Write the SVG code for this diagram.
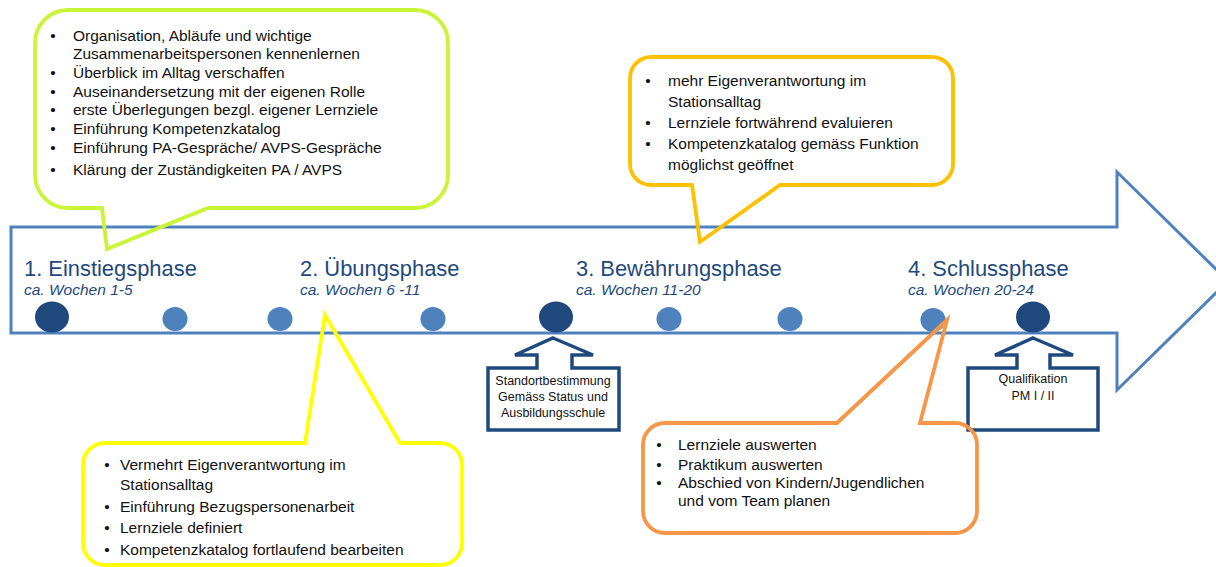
<svg xmlns="http://www.w3.org/2000/svg" width="1216" height="567" viewBox="0 0 1216 567">
<style>
.t{font-family:"Liberation Sans",Arial,sans-serif;font-size:15.5px;fill:#111}
.b{font-family:"Liberation Sans",Arial,sans-serif;font-size:15.5px;fill:#111;text-anchor:middle}
.ph{font-family:"Liberation Sans",Arial,sans-serif;font-size:21.9px;fill:#1f497d}
.wk{font-family:"Liberation Sans",Arial,sans-serif;font-size:15.5px;font-style:italic;fill:#1f497d}
.bx{font-family:"Liberation Sans",Arial,sans-serif;font-size:12.5px;fill:#111;text-anchor:middle}
.dk{fill:#1f497d}
.lt{fill:#4f81bd}
.mark{fill:#fff;stroke:#1f497d;stroke-width:3.5;stroke-linejoin:miter}
.co{fill:none;stroke-width:3.8;stroke-linejoin:miter}
</style>
<rect width="1216" height="567" fill="#fff"/>
<g id="timeline">
<path d="M 11,227 H 1117 V 172 L 1228,281 L 1117,390 V 333 H 11 Z" fill="#fff" stroke="#4f81bd" stroke-width="3"/>
</g>
<g id="phase1">
<text class="ph" x="24" y="276">1. Einstiegsphase</text>
<text class="wk" x="24" y="295">ca. Wochen 1-5</text>
</g>
<g id="phase2">
<text class="ph" x="300" y="276">2. Übungsphase</text>
<text class="wk" x="300" y="295">ca. Wochen 6 -11</text>
</g>
<g id="phase3">
<text class="ph" x="576" y="276">3. Bewährungsphase</text>
<text class="wk" x="576" y="295">ca. Wochen 11-20</text>
</g>
<g id="phase4">
<text class="ph" x="908" y="276">4. Schlussphase</text>
<text class="wk" x="908" y="295">ca. Wochen 20-24</text>
</g>
<g id="dots">
<ellipse class="dk" cx="52" cy="317" rx="17" ry="15.5"/>
<ellipse class="lt" cx="175" cy="319" rx="12.5" ry="12"/>
<ellipse class="lt" cx="280" cy="319" rx="12.5" ry="12"/>
<ellipse class="lt" cx="433" cy="319" rx="12.5" ry="12"/>
<ellipse class="dk" cx="556" cy="317" rx="17" ry="15.5"/>
<ellipse class="lt" cx="669" cy="319" rx="12.5" ry="12"/>
<ellipse class="lt" cx="790" cy="319" rx="12.5" ry="12"/>
<ellipse class="lt" cx="933" cy="320" rx="12.5" ry="12"/>
<ellipse class="dk" cx="1033" cy="317" rx="17" ry="15.5"/>
</g>
<g id="standort">
<path class="mark" d="M 553,338 L 593,355 L 572,355 L 572,368 L 619,368 L 619,430 L 488,430 L 488,368 L 537,368 L 537,355 L 515,355 Z"/>
<text class="bx" x="553" y="385">Standortbestimmung</text>
<text class="bx" x="553" y="401">Gemäss Status und</text>
<text class="bx" x="553" y="417">Ausbildungsschule</text>
</g>
<g id="qualifikation">
<path class="mark" d="M 1033,338 L 1073,355 L 1050,355 L 1050,368 L 1098,368 L 1098,430 L 968,430 L 968,368 L 1017,368 L 1017,355 L 995,355 Z"/>
<text class="bx" x="1033" y="383">Qualifikation</text>
<text class="bx" x="1033" y="400">PM I / II</text>
</g>
<g id="callout1">
<path class="co" stroke="#c9f536" d="M 68,10 H 415 A 33 33 0 0 1 448,43 V 175 A 33 33 0 0 1 415,208 H 208 L 107,249 L 102,208 H 68 A 33 33 0 0 1 35,175 V 43 A 33 33 0 0 1 68,10 Z"/>
<text class="b" x="53" y="40.5">•</text><text class="t" x="73" y="40.5">Organisation, Abläufe und wichtige</text>
<text class="t" x="73" y="58.5">Zusammenarbeitspersonen kennenlernen</text>
<text class="b" x="53" y="77.5">•</text><text class="t" x="73" y="77.5">Überblick im Alltag verschaffen</text>
<text class="b" x="53" y="96.5">•</text><text class="t" x="73" y="96.5">Auseinandersetzung mit der eigenen Rolle</text>
<text class="b" x="53" y="115">•</text><text class="t" x="73" y="115">erste Überlegungen bezgl. eigener Lernziele</text>
<text class="b" x="53" y="133.5">•</text><text class="t" x="73" y="133.5">Einführung Kompetenzkatalog</text>
<text class="b" x="53" y="153">•</text><text class="t" x="73" y="153">Einführung PA-Gespräche/ AVPS-Gespräche</text>
<text class="b" x="53" y="175">•</text><text class="t" x="73" y="175">Klärung der Zuständigkeiten PA / AVPS</text>
</g>
<g id="callout3">
<path class="co" stroke="#ffc000" d="M 651,57 H 932 A 21 21 0 0 1 953,78 V 164 A 21 21 0 0 1 932,185 H 780 L 700,242 L 692,185 H 651 A 21 21 0 0 1 630,164 V 78 A 21 21 0 0 1 651,57 Z"/>
<text class="b" x="648" y="86">•</text><text class="t" x="668" y="86">mehr Eigenverantwortung im</text>
<text class="t" x="668" y="107">Stationsalltag</text>
<text class="b" x="648" y="128">•</text><text class="t" x="668" y="128">Lernziele fortwährend evaluieren</text>
<text class="b" x="648" y="149">•</text><text class="t" x="668" y="149">Kompetenzkatalog gemäss Funktion</text>
<text class="t" x="668" y="170">möglichst geöffnet</text>
</g>
<g id="callout2">
<path class="co" stroke="#ffff00" d="M 105,443 H 305 L 325,315 L 400,443 H 440 A 22 22 0 0 1 462,465 V 543 A 22 22 0 0 1 440,565 H 105 A 22 22 0 0 1 83,543 V 465 A 22 22 0 0 1 105,443 Z"/>
<text class="b" x="107" y="470">•</text><text class="t" x="120" y="470">Vermehrt Eigenverantwortung im</text>
<text class="t" x="120" y="490">Stationsalltag</text>
<text class="b" x="107" y="512">•</text><text class="t" x="120" y="512">Einführung Bezugspersonenarbeit</text>
<text class="b" x="107" y="533">•</text><text class="t" x="120" y="533">Lernziele definiert</text>
<text class="b" x="107" y="555">•</text><text class="t" x="120" y="555">Kompetenzkatalog fortlaufend bearbeiten</text>
</g>
<g id="callout4">
<path class="co" stroke="#f79646" d="M 665,423 H 837 L 947,320 L 920,423 H 955 A 22 22 0 0 1 977,445 V 511 A 22 22 0 0 1 955,533 H 665 A 22 22 0 0 1 643,511 V 445 A 22 22 0 0 1 665,423 Z"/>
<text class="b" x="659" y="449.5">•</text><text class="t" x="678" y="449.5">Lernziele auswerten</text>
<text class="b" x="659" y="469.5">•</text><text class="t" x="678" y="469.5">Praktikum auswerten</text>
<text class="b" x="659" y="488">•</text><text class="t" x="678" y="488">Abschied von Kindern/Jugendlichen</text>
<text class="t" x="678" y="506">und vom Team planen</text>
</g>
</svg>
